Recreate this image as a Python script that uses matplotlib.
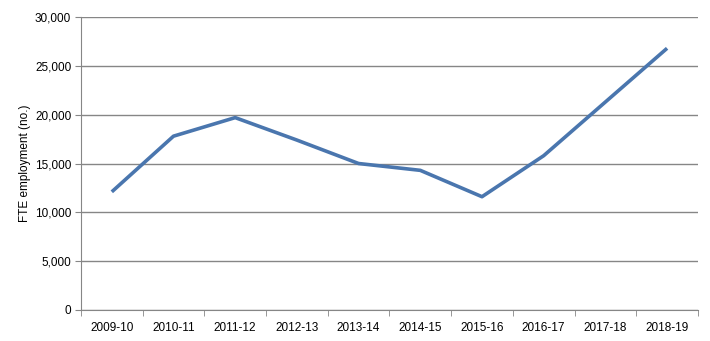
import matplotlib
matplotlib.use("Agg")
import matplotlib.pyplot as plt
from matplotlib.ticker import FuncFormatter, FixedLocator

years = ["2009-10", "2010-11", "2011-12", "2012-13", "2013-14",
         "2014-15", "2015-16", "2016-17", "2017-18", "2018-19"]
fte = [12100, 17800, 19700, 17400, 15000, 14300, 11600, 15800, 21300, 26800]

plt.rcParams['font.family'] = ['Liberation Sans', 'DejaVu Sans']

fig = plt.figure(figsize=(7.1, 3.41), dpi=100)
ax = fig.add_axes([0.114, 0.091, 0.869, 0.859])

x = list(range(len(years)))
ax.plot(x, fte, color="#4A76AE", linewidth=2.6, solid_capstyle="butt", zorder=3)

ax.set_xlim(-0.5, len(years) - 0.5)
ax.set_ylim(0, 30000)
ax.set_yticks(range(0, 30001, 5000))
ax.yaxis.set_major_formatter(FuncFormatter(lambda v, p: f"{int(v):,}"))
ax.set_xticks(x)
ax.set_xticklabels(years)
# tick marks sit between the categories
ax.xaxis.set_minor_locator(FixedLocator([i - 0.5 for i in range(len(years) + 1)]))

ax.grid(axis="y", color="#868686", linewidth=1)
ax.set_axisbelow(True)
for s in ["top", "right"]:
    ax.spines[s].set_visible(False)
for s in ["left", "bottom"]:
    ax.spines[s].set_color("#868686")

ax.tick_params(axis="y", length=4, color="#868686", labelsize=8.5, pad=3)
ax.tick_params(axis="x", which="major", length=0, labelsize=8.5, pad=9)
ax.tick_params(axis="x", which="minor", length=4, color="#868686")

ax.set_ylabel("FTE employment (no.)", fontsize=8.5, labelpad=3)

fig.savefig("out.png", dpi=100)
